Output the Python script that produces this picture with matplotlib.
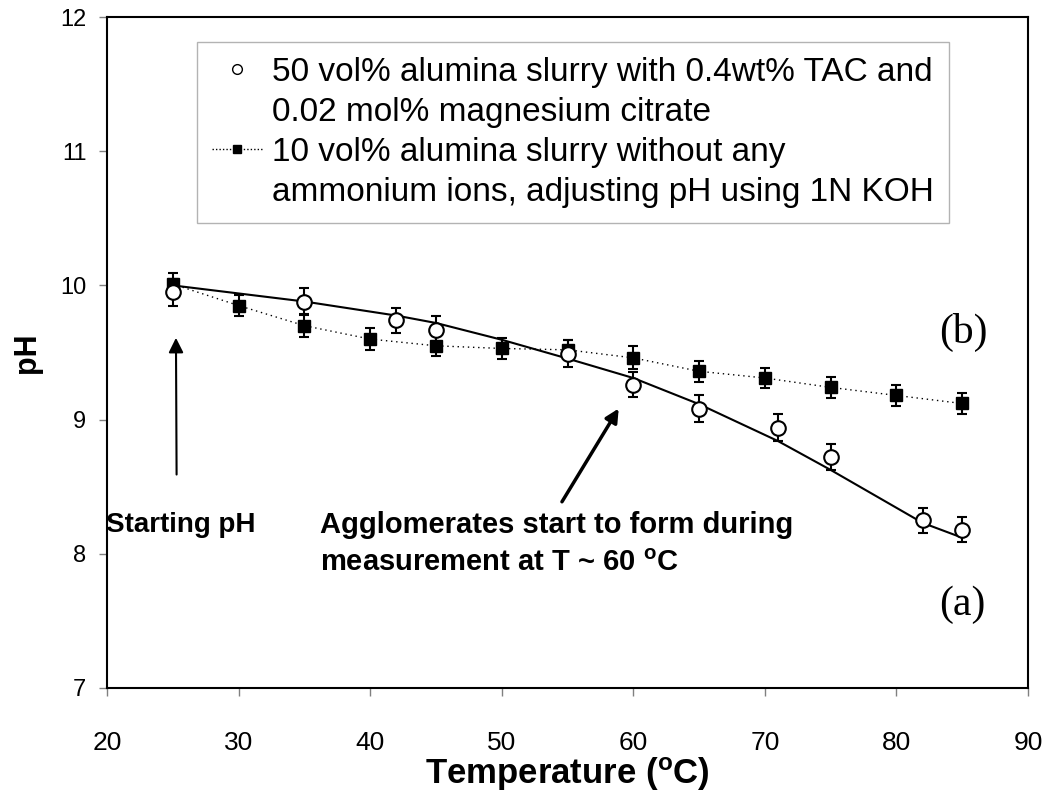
import numpy as np
import matplotlib.pyplot as plt
from matplotlib.lines import Line2D

plt.rcParams['mathtext.default'] = 'regular'

# Series (a): 50 vol% slurry with TAC + Mg citrate (open circles)
temp_a = [25, 35, 42, 45, 55, 60, 65, 71, 75, 82, 85]
ph_a = [9.95, 9.88, 9.74, 9.67, 9.49, 9.26, 9.08, 8.94, 8.72, 8.25, 8.18]
err_a = [0.10, 0.10, 0.095, 0.10, 0.10, 0.095, 0.10, 0.10, 0.095, 0.095, 0.093]

# trend line drawn through series (a)
fit_t = [25, 35, 42, 45, 50, 55, 60, 65, 71, 75, 82, 85]
fit_ph = [10.0, 9.88, 9.775, 9.72, 9.595, 9.455, 9.31, 9.115, 8.84, 8.625, 8.23, 8.12]

# Series (b): 10 vol% slurry, pH adjusted with KOH (filled squares)
temp_b = [25, 30, 35, 40, 45, 50, 55, 60, 65, 70, 75, 80, 85]
ph_b = [10.01, 9.85, 9.70, 9.60, 9.55, 9.53, 9.52, 9.46, 9.36, 9.31, 9.24, 9.18, 9.12]
err_b = [0.08, 0.078, 0.085, 0.08, 0.075, 0.078, 0.07, 0.085, 0.08, 0.075, 0.08, 0.075, 0.08]

# legend text, one entry per printed line
legend_lines = ['50 vol% alumina slurry with 0.4wt% TAC and',
                '0.02 mol% magnesium citrate',
                '10 vol% alumina slurry without any',
                'ammonium ions, adjusting pH using 1N KOH']

sans = ['Liberation Sans', 'DejaVu Sans']
serif = ['Liberation Serif', 'DejaVu Serif']

fig = plt.figure(figsize=(10.44, 7.97), dpi=100)
ax = fig.add_axes([107/1044, 1 - 688/797, (1028-107)/1044, (688-17)/797])

# squares with dotted connecting line
ax.errorbar(temp_b, ph_b, yerr=err_b, fmt='s', color='black', ms=9,
            ecolor='black', elinewidth=1.5, capsize=3.4, capthick=1.5, zorder=3)
ax.plot(temp_b, ph_b, color='black', lw=1.0, linestyle=(0, (1, 2.7)), zorder=2)

# trend line and open circles
ax.plot(fit_t, fit_ph, color='black', lw=1.5, zorder=2)
ax.errorbar(temp_a, ph_a, yerr=err_a, fmt='o', mfc='white', mec='black', mew=1.5,
            ms=10.5, ecolor='black', elinewidth=1.5, capsize=3.4, capthick=1.5, zorder=4)

ax.set_xlim(20, 90)
ax.set_ylim(7, 12)
ax.set_xticks(np.arange(20, 91, 10))
ax.set_yticks(np.arange(7, 13, 1))
for s in ax.spines.values():
    s.set_linewidth(1.5)
ax.tick_params(axis='both', direction='out', length=5.8, width=1, color='#808080')
ax.tick_params(axis='x', pad=25)
ax.tick_params(axis='y', pad=9)
for t in ax.get_xticklabels():
    t.set_family(sans)
    t.set_fontsize(19)
for t in ax.get_yticklabels():
    t.set_family(sans)
    t.set_fontsize(17)

ax.set_xlabel(r'Temperature ($^{\mathregular{o}}$C)', family=sans,
              fontweight='bold', fontsize=25)
ax.xaxis.set_label_coords(0.5, -0.128)
ax.xaxis.label.set_va('center')
ax.set_ylabel('pH', family=sans, fontweight='bold', fontsize=22)
ax.yaxis.set_label_coords(-0.087, 0.5)
ax.yaxis.label.set_va('center')

# legend: handle sits on the first line of each entry
h_a = Line2D([], [], marker='o', ls='none', mfc='white', mec='black', mew=1.0, ms=7)
h_b = Line2D([], [], marker='s', color='black', ls=(0, (1, 1.5)), lw=1.0, ms=6)
h_none = Line2D([], [], ls='none')
leg = ax.legend([h_a, h_none, h_b, h_none], legend_lines, loc='upper left',
                bbox_to_anchor=(197/1044, 1 - 42/797), bbox_transform=fig.transFigure,
                prop={'family': sans, 'size': 24}, fancybox=False, frameon=True,
                edgecolor='#a0a0a0', borderaxespad=0, borderpad=0.45,
                handlelength=1.5, handletextpad=0.3, labelspacing=0.27)
leg.get_frame().set_linewidth(1.0)

# annotations
ax.annotate('', xy=(25.24, 9.63), xytext=(25.29, 8.57),
            arrowprops=dict(arrowstyle='-|>', lw=1.5, color='black', mutation_scale=22))
ax.text(19.9, 8.215, 'Starting pH', family=sans, fontweight='bold', fontsize=20,
        ha='left', va='center')

ax.annotate('', xy=(59.0, 9.10), xytext=(54.47, 8.37),
            arrowprops=dict(arrowstyle='-|>', lw=2.5, color='black', mutation_scale=20))
ax.text(36.2, 8.215, 'Agglomerates start to form during', family=sans,
        fontweight='bold', fontsize=21, ha='left', va='center')
ax.text(36.2, 7.93, r'measurement at T ~ 60 $^{\mathregular{o}}$C', family=sans,
        fontweight='bold', fontsize=21, ha='left', va='center')

ax.text(85.1, 9.65, '(b)', family=serif, fontsize=30, ha='center', va='center')
ax.text(85.0, 7.62, '(a)', family=serif, fontsize=30, ha='center', va='center')

fig.savefig('out.png', dpi=100)
